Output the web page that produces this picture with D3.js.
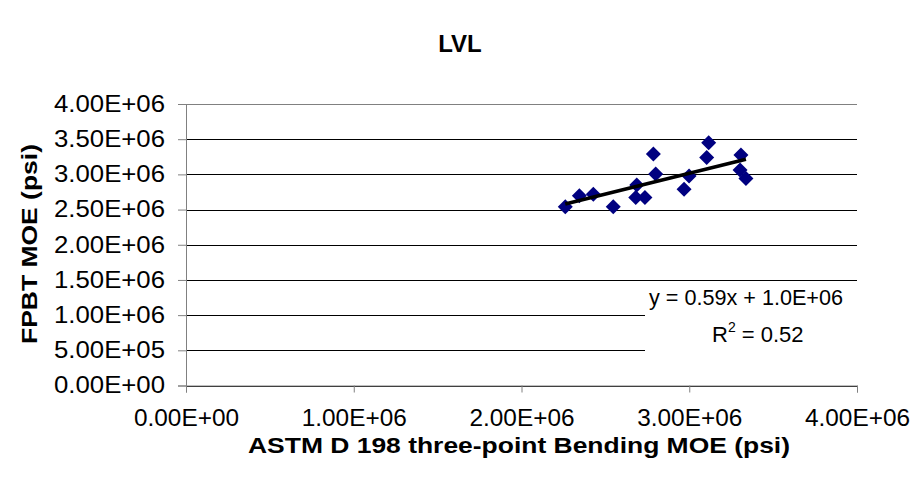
<!DOCTYPE html>
<html>
<head>
<meta charset="utf-8">
<script src="https://cdn.jsdelivr.net/npm/d3@7"></script>
<style>
  body { margin: 0; background: #fff; }
  text { font-family: "Liberation Sans", Arial, sans-serif; }
</style>
</head>
<body>
<div class="myViz"></div>
<script>
// data (psi)
var bendingMOE = [2.261e6, 2.345e6, 2.428e6, 2.547e6, 2.687e6, 2.681e6, 2.736e6, 2.786e6,
                  2.800e6, 2.969e6, 2.999e6, 3.104e6, 3.116e6, 3.308e6, 3.303e6, 3.338e6];
var fpbtMOE    = [2.540e6, 2.696e6, 2.716e6, 2.540e6, 2.848e6, 2.673e6, 2.673e6, 3.288e6,
                  3.004e6, 2.787e6, 2.976e6, 3.241e6, 3.449e6, 3.274e6, 3.061e6, 2.943e6];
var xTicks = [0, 1e6, 2e6, 3e6, 4e6];
var yTicks = [0, 5e5, 1e6, 1.5e6, 2e6, 2.5e6, 3e6, 3.5e6, 4e6];
var xTickLabels = ["0.00E+00", "1.00E+06", "2.00E+06", "3.00E+06", "4.00E+06"];
var yTickLabels = ["0.00E+00", "5.00E+05", "1.00E+06", "1.50E+06", "2.00E+06",
                   "2.50E+06", "3.00E+06", "3.50E+06", "4.00E+06"];

var margin = {top: 104, right: 60, bottom: 100.5, left: 186},
    width = 917 - margin.left - margin.right,
    height = 486 - margin.top - margin.bottom;

var svg = d3.select(".myViz")
  .append("svg")
  .attr("width", 917)
  .attr("height", 486);

var chartGroup = svg.append("g")
  .attr("transform", `translate(${margin.left}, ${margin.top})`);

var x = d3.scaleLinear().domain([0, 4e6]).range([0, width]);
var y = d3.scaleLinear().domain([0, 4e6]).range([height, 0]);

// horizontal gridlines
chartGroup.selectAll(".grid")
  .data(yTicks)
  .enter()
  .append("line")
  .attr("x1", 0)
  .attr("x2", width)
  .attr("y1", d => Math.round(y(d)) + 0.5)
  .attr("y2", d => Math.round(y(d)) + 0.5)
  .attr("stroke", (d, i) => i == yTicks.length - 1 ? "#808080" : "#000")
  .attr("stroke-width", 1);

// y axis
var yAxis = chartGroup.append("g")
  .call(d3.axisLeft(y).tickValues(yTicks).tickSize(8).tickPadding(13)
    .tickFormat((d, i) => yTickLabels[i]));

// x axis
var xAxis = chartGroup.append("g")
  .attr("transform", "translate(0," + height + ")")
  .call(d3.axisBottom(x).tickValues(xTicks).tickSize(7).tickPadding(17)
    .tickFormat((d, i) => xTickLabels[i]));

[xAxis, yAxis].forEach(a => {
  a.select(".domain").attr("stroke", "#808080");
  a.selectAll(".tick line").attr("stroke", "#808080");
  a.selectAll("text")
    .style("font-family", "'Liberation Sans', Arial, sans-serif")
    .style("font-size", "23px")
    .attr("fill", "#000");
});
yAxis.selectAll("text").attr("textLength", 111).attr("lengthAdjust", "spacingAndGlyphs");
xAxis.selectAll("text").attr("textLength", 105).attr("lengthAdjust", "spacingAndGlyphs");

// points (diamonds)
var points = bendingMOE.map((v, i) => ({x: v, y: fpbtMOE[i]}));
chartGroup.selectAll(".pt")
  .data(points)
  .enter()
  .append("path")
  .attr("d", "M0,-7.5L7.5,0L0,7.5L-7.5,0Z")
  .attr("transform", d => `translate(${x(d.x)},${y(d.y)})`)
  .attr("fill", "#000080");

// linear trend line (least squares)
var mx = d3.mean(bendingMOE), my = d3.mean(fpbtMOE);
var sxy = d3.sum(points, d => (d.x - mx) * (d.y - my));
var sxx = d3.sum(points, d => (d.x - mx) * (d.x - mx));
var slope = sxy / sxx, intercept = my - slope * mx;
var xr = d3.extent(bendingMOE);
chartGroup.append("line")
  .attr("x1", x(xr[0])).attr("y1", y(slope * xr[0] + intercept))
  .attr("x2", x(xr[1])).attr("y2", y(slope * xr[1] + intercept))
  .attr("stroke", "#000")
  .attr("stroke-width", 3.5);

// equation label box
svg.append("rect")
  .attr("x", 645).attr("y", 283)
  .attr("width", 212).attr("height", 70)
  .attr("fill", "#fff");
svg.append("text")
  .attr("x", 649).attr("y", 305)
  .style("font-size", "22px")
  .attr("textLength", 194).attr("lengthAdjust", "spacingAndGlyphs")
  .text("y = 0.59x + 1.0E+06");
var r2 = svg.append("text")
  .attr("x", 712).attr("y", 342)
  .style("font-size", "22px");
r2.append("tspan").text("R");
r2.append("tspan").attr("dy", -10).style("font-size", "14px").text("2");
r2.append("tspan").attr("dy", 10).text(" = 0.52");

// title
svg.append("text")
  .attr("x", 460).attr("y", 52)
  .attr("text-anchor", "middle")
  .style("font-size", "24px")
  .style("font-weight", "bold")
  .text("LVL");

// axis titles
svg.append("text")
  .attr("x", 519).attr("y", 453)
  .attr("text-anchor", "middle")
  .style("font-size", "22px")
  .style("font-weight", "bold")
  .attr("textLength", 542).attr("lengthAdjust", "spacingAndGlyphs")
  .text("ASTM D 198 three-point Bending MOE (psi)");

svg.append("text")
  .attr("transform", "translate(37,244) rotate(-90)")
  .attr("text-anchor", "middle")
  .style("font-size", "22px")
  .style("font-weight", "bold")
  .attr("textLength", 200).attr("lengthAdjust", "spacingAndGlyphs")
  .text("FPBT MOE (psi)");
</script>
</body>
</html>
